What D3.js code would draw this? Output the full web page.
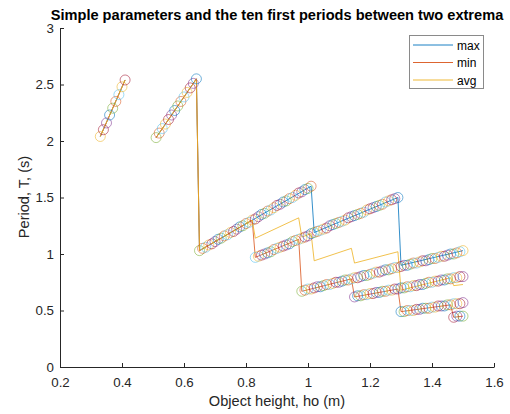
<!DOCTYPE html>
<html>
<head>
<meta charset="utf-8">
<script src="https://cdn.jsdelivr.net/npm/d3@7"></script>
<style>
  body { margin: 0; background: #fff; }
  svg { font-family: "Liberation Sans", Arial, Helvetica, sans-serif; }
</style>
</head>
<body>
<div id="chart-area"></div>
<script>
/*
*    periods chart
*/

var width = 510;
var height = 414;

// ho step between two points is 0.01
var hoStep = 0.01;

// point bands: first ho and the periods
var band1Start = 0.33;
var band1 = [2.04, 2.10, 2.16, 2.23, 2.29, 2.35, 2.41, 2.48, 2.54];
var band2Start = 0.51;
var band2 = [2.03, 2.07, 2.11, 2.15, 2.19, 2.23, 2.27, 2.31, 2.35, 2.39, 2.43, 2.47, 2.51, 2.55];
var band3Start = 0.65;
var band3 = [1.03, 1.05, 1.06, 1.08, 1.09, 1.11, 1.13, 1.14, 1.16, 1.17, 1.19, 1.20, 1.22,
  1.24, 1.25, 1.27, 1.28, 1.30, 1.31, 1.33, 1.35, 1.36, 1.38, 1.39, 1.41, 1.43, 1.44, 1.46,
  1.47, 1.49, 1.50, 1.52, 1.54, 1.55, 1.57, 1.58, 1.60];
var band4Start = 0.83;
var band4 = [0.97, 0.98, 0.99, 1.00, 1.01, 1.02, 1.04, 1.05, 1.06, 1.07, 1.08, 1.09, 1.11,
  1.12, 1.13, 1.14, 1.15, 1.16, 1.18, 1.19, 1.20, 1.21, 1.22, 1.23, 1.25, 1.26, 1.27, 1.28,
  1.29, 1.30, 1.32, 1.33, 1.34, 1.35, 1.36, 1.37, 1.39, 1.40, 1.41, 1.42, 1.43, 1.44, 1.46,
  1.47, 1.48, 1.49, 1.50];
var band5Start = 0.98;
var band5 = [0.67, 0.68, 0.69, 0.69, 0.70, 0.71, 0.71, 0.72, 0.73, 0.73, 0.74, 0.75, 0.75,
  0.76, 0.77, 0.77, 0.78, 0.79, 0.79, 0.80, 0.81, 0.81, 0.82, 0.83, 0.84, 0.84, 0.85, 0.86,
  0.86, 0.87, 0.88, 0.88, 0.89, 0.90, 0.90, 0.91, 0.92, 0.92, 0.93, 0.94, 0.94, 0.95, 0.96,
  0.96, 0.97, 0.98, 0.98, 0.99, 1.00, 1.00, 1.01, 1.02, 1.03];
var band6Start = 1.15;
var band6 = [0.62, 0.63, 0.63, 0.64, 0.64, 0.65, 0.65, 0.66, 0.66, 0.67, 0.67, 0.68, 0.68,
  0.69, 0.69, 0.70, 0.70, 0.71, 0.71, 0.72, 0.72, 0.73, 0.73, 0.74, 0.75, 0.75, 0.76, 0.76,
  0.77, 0.77, 0.78, 0.78, 0.79, 0.79, 0.80, 0.80];
var band7Start = 1.30;
var band7 = [0.49, 0.49, 0.50, 0.50, 0.50, 0.51, 0.51, 0.52, 0.52, 0.52, 0.53, 0.53, 0.54,
  0.54, 0.54, 0.55, 0.55, 0.56, 0.56, 0.56, 0.57];
var band8Start = 1.47;
var band8 = [0.44, 0.45, 0.45, 0.45];

// line vertices [ho, T], null = gap
var maxLine = [[0.33, 2.04], [0.41, 2.54], null, [0.51, 2.03], [0.64, 2.55], [0.65, 1.03],
  [1.01, 1.60], [1.02, 1.19], [1.29, 1.50], [1.30, 0.90], [1.50, 1.03]];
var minLine = [[0.33, 2.04], [0.41, 2.54], null, [0.51, 2.03], [0.64, 2.55], [0.65, 1.03],
  [0.82, 1.30], [0.83, 0.97], [0.97, 1.13], [0.98, 0.67], [1.14, 0.78], [1.15, 0.62],
  [1.29, 0.69], [1.30, 0.49], [1.46, 0.55], [1.47, 0.44], [1.50, 0.45]];
var avgLine = [[0.33, 2.04], [0.41, 2.54], null, [0.51, 2.03], [0.64, 2.55], [0.65, 1.03],
  [0.82, 1.30], [0.83, 1.14], [0.97, 1.32], [0.98, 1.15], [1.01, 1.18], [1.02, 0.94],
  [1.14, 1.05], [1.15, 0.92], [1.29, 1.02], [1.30, 0.68], [1.46, 0.79], [1.47, 0.72],
  [1.50, 0.73]];

var seriesNames = ["max", "min", "avg"];

var xTicks = [0.2, 0.4, 0.6, 0.8, 1, 1.2, 1.4, 1.6];
var xTickLabels = ["0.2", "0.4", "0.6", "0.8", "1", "1.2", "1.4", "1.6"];
var yTicks = [0, 0.5, 1, 1.5, 2, 2.5, 3];
var yTickLabels = ["0", "0.5", "1", "1.5", "2", "2.5", "3"];

// matlab colour order
var colorOrder = ["#0072BD", "#D95319", "#EDB120", "#7E2F8E", "#77AC30", "#4DBEEE", "#A2142F"];

var bands = [
  {start: band1Start, values: band1, offset: 0},
  {start: band2Start, values: band2, offset: 0},
  {start: band3Start, values: band3, offset: 0},
  {start: band4Start, values: band4, offset: 6},
  {start: band5Start, values: band5, offset: 1},
  {start: band6Start, values: band6, offset: 2},
  {start: band7Start, values: band7, offset: 2},
  {start: band8Start, values: band8, offset: 3}
];

var svg = d3.select("#chart-area").append("svg")
.attr("width", width)
.attr("height", height)

var x = d3.scaleLinear()
.domain([0.2, 1.6])
.range([60, 494])

var y = d3.scaleLinear()
.domain([0, 3])
.range([367, 28])

// Lines

var line = d3.line()
.defined(d => d !== null)
.x(d => x(d[0]))
.y(d => y(d[1]))

var lines = [maxLine, minLine, avgLine]

lines.forEach((data, i) => {
	svg.append("path")
	.attr("d", line(data))
	.attr("fill", "none")
	.attr("stroke", colorOrder[i])
	.attr("stroke-width", 0.8)
})

// Points

var points = []
bands.forEach(band => {
	band.values.forEach((t, i) => {
		var ho = +(band.start + i * hoStep).toFixed(2)
		var k = Math.round((ho - band1Start) / hoStep)
		points.push({ho: ho, t: t, c: (2 + 4 * k + band.offset) % 7})
	})
})

svg.append("g").selectAll("circle")
.data(points)
.enter().append("circle")
.attr("cx", d => x(d.ho))
.attr("cy", d => y(d.t))
.attr("r", 5)
.attr("fill", "none")
.attr("stroke", d => colorOrder[d.c])
.attr("stroke-width", 0.65)
.attr("stroke-opacity", 0.85)

// Axes

var xAxisCall = d3.axisBottom(x)
.tickValues(xTicks)
.tickFormat((d, i) => xTickLabels[i])
.tickSizeInner(-4)
.tickSizeOuter(0)
.tickPadding(11)

var yAxisCall = d3.axisLeft(y)
.tickValues(yTicks)
.tickFormat((d, i) => yTickLabels[i])
.tickSizeInner(-4)
.tickSizeOuter(0)
.tickPadding(6)

var xAxisGroup = svg.append("g")
.attr("transform", "translate(0, 367)")
.call(xAxisCall)

var yAxisGroup = svg.append("g")
.attr("transform", "translate(60, 0)")
.call(yAxisCall)

svg.selectAll(".domain").attr("stroke", "#262626")
svg.selectAll(".tick line").attr("stroke", "#262626")
svg.selectAll(".tick text")
.attr("fill", "#262626")
.attr("font-size", "13.3px")
.attr("font-family", "\"Liberation Sans\", Arial, sans-serif")

// Labels

svg.append("text")
.attr("x", 277)
.attr("y", 20)
.attr("font-size", "14.6px")
.attr("font-weight", "bold")
.attr("text-anchor", "middle")
.style("fill", "black")
.text("Simple parameters and the ten first periods between two extrema")

svg.append("text")
.attr("x", 277)
.attr("y", 406)
.attr("font-size", "14.6px")
.attr("text-anchor", "middle")
.style("fill", "#262626")
.text("Object height, ho (m)")

svg.append("text")
.attr("x", -197)
.attr("y", 29)
.attr("font-size", "14.6px")
.attr("text-anchor", "middle")
.attr("transform", "rotate(-90)")
.style("fill", "#262626")
.text("Period, T, (s)")

// Legend

var legend = svg.append("g")

legend.append("rect")
.attr("x", 409.5)
.attr("y", 35.5)
.attr("width", 74)
.attr("height", 53)
.attr("fill", "white")
.attr("stroke", "#8a8a8a")
.attr("stroke-width", 1)

seriesNames.forEach((name, i) => {
	var row = legend.append("g")
	.attr("transform", "translate(0, " + (45 + i * 17.5) + ")")

	row.append("line")
	.attr("x1", 413)
	.attr("x2", 453)
	.attr("stroke", colorOrder[i])
	.attr("stroke-width", 0.9)

	row.append("text")
	.attr("x", 457)
	.attr("y", 4.5)
	.attr("font-size", "12px")
	.style("fill", "black")
	.text(name)
})
</script>
</body>
</html>
